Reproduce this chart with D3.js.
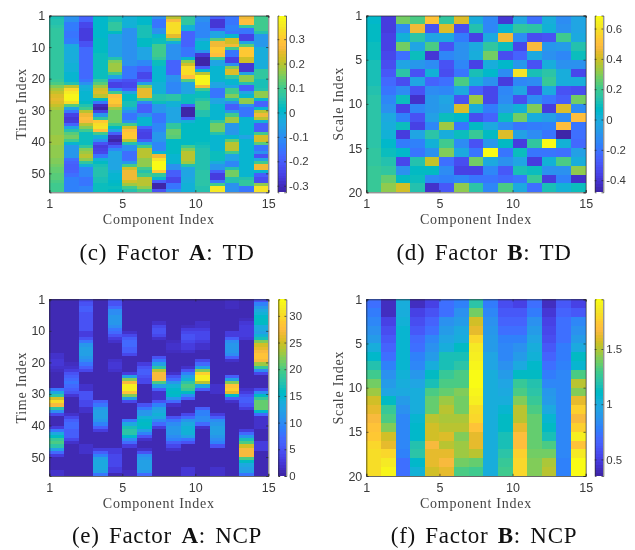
<!DOCTYPE html>
<html><head><meta charset="utf-8">
<script src="https://cdnjs.cloudflare.com/ajax/libs/d3/7.8.5/d3.min.js"></script>
<style>
html,body{margin:0;padding:0;background:#fff;}
svg{display:block;filter:blur(0.45px);}
.tk text{font-family:"Liberation Sans",Arial,sans-serif;font-size:12.5px;fill:#3a3a3a;}
.cbk text{font-size:11.4px;}
.tk path,.tk line{stroke:#262626;stroke-width:0.7;}
.lab{font-family:"Liberation Serif",serif;font-size:14px;fill:#444;letter-spacing:0.75px;}
.cap{font-family:"Liberation Serif",serif;font-size:23px;fill:#111;letter-spacing:0.7px;word-spacing:3px;}
rect{shape-rendering:crispEdges;}
</style></head><body><svg id="c" width="635" height="550"></svg>
<script>
const parula=[[.2422,.1504,.6603],[.2504,.165,.7076],[.2578,.1818,.7511],[.2647,.1978,.7952],[.2706,.2147,.8364],[.2751,.2342,.871],[.2783,.2559,.8991],[.2803,.2782,.9221],[.2813,.3006,.9414],[.281,.3228,.9579],[.2795,.3447,.9717],[.276,.3667,.9829],[.2699,.3892,.9906],[.2602,.4123,.9952],[.244,.4358,.9988],[.2206,.4603,.9973],[.1963,.4847,.9892],[.1834,.5074,.9798],[.1786,.5289,.9682],[.1764,.5499,.952],[.1687,.5703,.9359],[.154,.5902,.9218],[.146,.6091,.9079],[.138,.6276,.8973],[.1248,.6459,.8883],[.1113,.6635,.8763],[.0952,.6798,.8598],[.0689,.6948,.8394],[.0297,.7082,.8163],[.0036,.7203,.7917],[.0067,.7312,.766],[.0433,.7411,.7394],[.0964,.75,.712],[.1408,.7584,.6842],[.1717,.767,.6554],[.1938,.7758,.6251],[.2161,.7843,.5923],[.247,.7918,.5567],[.2906,.7973,.5188],[.3406,.8008,.4789],[.3909,.8029,.4354],[.4456,.8024,.3909],[.5044,.7993,.348],[.5616,.7942,.3045],[.6174,.7876,.2612],[.672,.7793,.2227],[.7242,.7698,.191],[.7738,.7598,.1646],[.8203,.7498,.1535],[.8634,.7406,.1596],[.9035,.733,.1774],[.9393,.7288,.21],[.9728,.7298,.2394],[.9956,.7434,.2371],[.997,.7659,.2199],[.9952,.7861,.1991],[.9892,.8138,.1816],[.9786,.8422,.1671],[.9676,.868,.1542],[.961,.8911,.1535],[.9597,.917,.1423],[.9628,.9373,.1265],[.9691,.9606,.1064],[.9769,.9839,.0805]].map(c=>d3.rgb(c[0]*255,c[1]*255,c[2]*255).formatHex());

// Factor A: TD, one array per component, 56 time rows
const tdA1=[.04,.05,.05,.06,.07,.07,.07,.07,.07,.07,.08,.08,.08,.08,.08,.08,.08,.08,.08,.08,.09,.11,.15,.19,.21,.23,.24,.23,.21,.19,.17,.16,.16,.16,.17,.17,.17,.17,.18,.18,.18,.17,.17,.16,.16,.15,.15,.14,.13,.13,.12,.12,.11,.10,.10,.10];
const tdA2=[-.10,-.10,-.14,-.14,-.14,-.15,-.15,-.14,-.14,-.04,-.03,-.03,-.03,-.03,-.03,-.02,-.02,-.02,-.01,-.01,-.01,.05,.20,.32,.36,.38,.38,.33,.12,-.05,-.15,-.25,-.28,-.27,-.18,-.05,.05,.12,.14,.10,0,-.08,-.08,-.08,-.08,-.16,-.18,-.20,-.20,-.18,-.16,-.13,-.13,-.13,-.13,-.13];
const tdA3=[-.18,-.18,-.24,-.24,-.27,-.27,-.27,-.27,-.22,-.22,-.17,-.17,-.17,-.17,-.17,-.17,-.17,-.17,-.17,-.17,-.15,-.10,-.03,-.02,-.01,0,0,.02,.05,.10,.20,.26,.28,.27,.20,.15,.10,.03,.03,.03,.03,.08,.15,.18,.20,.16,.08,-.02,-.12,-.12,-.12,-.15,-.15,-.15,-.12,-.12];
const tdA4=[.01,.01,.01,.01,.01,.01,.01,.02,.02,.02,.02,.02,.03,.03,.03,.03,.03,.03,.03,.03,.08,.12,.18,.22,.23,.20,.02,-.15,-.30,-.32,-.25,-.08,.08,.30,.33,.35,.28,.10,-.02,-.10,-.22,-.26,-.25,-.24,-.15,-.02,.02,.04,.05,.05,.05,.04,.04,.03,.03,.03];
const tdA5=[.04,.04,.08,.08,.08,.02,-.06,-.06,-.06,-.06,-.06,-.06,-.06,.05,.15,.18,.18,.18,.10,-.05,-.20,-.25,-.25,-.12,.10,.28,.30,.30,.25,.18,.14,.14,.14,.14,.10,.02,-.05,-.20,-.30,-.33,-.28,-.20,-.12,-.05,-.05,-.05,-.05,-.05,-.05,-.02,-.01,0,.01,.02,.03,.02];
const tdA6=[-.02,-.02,-.02,-.02,-.10,-.10,-.10,-.10,-.10,-.10,-.10,-.10,-.10,-.10,-.10,-.10,-.15,-.15,-.15,-.15,-.22,-.24,-.24,-.20,-.05,.02,.02,.04,.04,-.03,-.10,-.15,-.15,-.10,.10,.22,.28,.30,.30,.20,.05,-.10,-.10,-.16,-.16,-.16,-.08,.10,.22,.25,.25,.25,.22,.18,.10,.05];
const tdA7=[.01,.01,.01,.04,.04,.04,.04,.02,.02,.02,-.05,-.05,-.05,-.05,-.12,-.12,-.18,-.18,-.24,-.24,-.20,-.05,.15,.24,.24,.24,.10,-.12,-.20,-.20,-.20,-.10,0,0,0,-.18,-.24,-.25,-.25,-.20,-.05,.10,.20,.20,.20,.17,.17,.17,.10,.05,.10,.20,.20,.20,.17,.10];
const tdA8=[-.10,-.15,-.15,-.15,-.10,-.10,0,.03,.03,.10,.10,.10,.10,.08,.03,.03,0,0,0,0,0,-.02,-.02,-.02,-.02,.05,.05,.03,-.08,-.08,-.08,-.15,-.15,-.15,-.12,-.12,-.12,-.08,-.08,-.08,-.12,-.12,-.12,0,.25,.35,.39,.39,.39,.30,.08,0,-.20,-.32,-.32,-.22];
const tdA9=[.20,.27,.33,.33,.33,.33,.24,.12,-.02,-.10,-.10,-.10,-.10,-.10,-.18,-.18,-.18,-.18,-.18,-.10,-.10,-.12,-.12,-.12,-.12,.06,.06,-.02,-.02,-.05,-.05,-.05,-.05,-.05,.08,.08,.13,.13,.12,.02,.02,.02,.02,.02,0,0,0,-.10,-.10,-.20,-.20,-.24,-.24,-.15,-.15,-.10];
const tdA10=[.07,.07,.07,-.02,-.02,-.18,-.18,-.18,-.18,-.18,-.15,-.15,-.15,0,.17,.22,.33,.33,.33,.28,.12,-.05,-.05,-.05,-.05,.03,.03,.03,-.20,-.32,-.32,-.32,-.20,-.02,.02,.02,.02,.02,.02,.02,.02,.10,.15,.20,.20,.20,.18,.05,-.05,-.05,-.05,-.04,-.03,-.02,-.02,-.02];
const tdA11=[-.10,-.10,-.12,-.12,-.12,-.12,-.12,-.05,0,0,0,-.10,-.28,-.33,-.33,-.33,-.20,0,.20,.38,.38,.38,.25,.10,.03,.03,.05,.10,.10,.10,.05,.05,.02,.02,.02,.02,.02,.02,.02,.02,.03,.04,.05,.05,.05,.05,.05,.05,.05,.06,.06,.06,.06,.06,.05,.05];
const tdA12=[-.20,-.28,-.28,-.28,-.20,-.05,-.05,.12,.25,.25,.30,.30,.28,.10,-.05,-.05,0,0,0,0,0,-.05,-.05,-.15,-.15,-.15,-.05,-.05,0,0,0,0,0,.08,.14,.14,.14,.05,0,0,0,0,0,.03,.03,.03,-.03,-.08,-.08,-.20,-.27,-.27,-.15,.10,.36,.36];
const tdA13=[-.15,-.15,-.15,-.13,-.13,-.15,0,.22,.22,.25,.10,-.15,-.15,-.25,-.25,-.10,.15,.23,.23,.08,0,0,-.05,.10,.10,.15,.05,-.10,-.20,-.20,-.08,.10,.18,.18,-.08,-.08,-.08,-.08,0,.12,.20,.20,.20,.10,-.05,-.05,-.12,-.12,.05,.14,.14,.05,.05,-.10,-.10,-.10];
const tdA14=[.25,.28,.28,.08,-.15,-.15,-.25,-.25,-.05,.12,.30,.30,.30,.22,.22,-.28,-.28,-.28,-.05,.16,.16,.05,-.20,-.20,-.05,0,.17,.17,-.10,-.15,-.15,-.15,0,0,0,0,0,0,-.05,0,0,0,0,0,0,0,0,0,0,0,0,.05,.08,.08,-.15,-.15];
const tdA15=[.10,.10,.10,.10,.10,.05,-.08,-.08,-.08,-.08,-.03,-.03,-.03,-.03,-.03,-.03,-.03,.08,.08,.08,.04,.04,.04,.05,.17,.17,0,-.18,-.18,0,.20,.25,.20,-.02,-.20,-.20,-.20,.10,.22,.22,.12,-.15,-.15,-.10,-.22,-.05,.10,.25,.25,0,-.20,-.23,-.23,.17,.35,.35];

// Factor B: TD, 20 scale rows
const tdB1=[.05,.07,.08,.09,.1,.11,.12,.12,.13,.14,.14,.15,.15,.15,.15,.16,.17,.18,.18,.18];
const tdB2=[-.38,-.38,-.37,-.36,-.35,-.33,-.28,-.24,-.2,-.15,-.1,-.02,0,.02,.06,.09,.13,.17,.26,.32];
const tdB3=[.28,-.12,.02,.27,-.22,-.03,.14,-.32,-.12,.09,-.36,-.16,.09,-.38,-.18,.06,-.35,-.1,.07,.4];
const tdB4=[.22,.45,.14,-.04,.1,-.08,-.3,-.04,-.3,-.42,-.15,-.3,-.36,-.03,-.16,-.2,.13,.08,.09,.13];
const tdB5=[.52,-.3,-.03,.22,-.4,-.12,.03,-.25,-.12,-.08,-.08,-.05,-.15,.15,.02,-.1,.38,.08,-.15,-.42];
const tdB6=[.16,.42,-.02,-.3,-.15,-.3,-.33,-.22,-.15,-.03,-.05,.09,.33,0,.2,.3,-.22,-.12,-.16,-.28];
const tdB7=[.42,-.33,-.18,-.1,-.1,-.15,-.2,.23,-.02,-.3,.42,.05,-.2,.1,-.12,-.02,-.33,-.36,-.15,.32];
const tdB8=[0,.13,-.36,-.02,0,-.36,.12,0,-.27,.33,0,-.33,.08,.19,-.3,-.2,.28,-.37,-.2,.14];
const tdB9=[-.15,-.15,-.02,.17,.28,0,.05,-.1,-.35,-.35,-.18,-.25,-.02,.08,-.08,.68,-.02,-.15,-.2,-.14];
const tdB10=[-.4,.04,.45,.1,-.32,.06,-.12,-.38,-.15,-.12,-.06,.1,-.13,.42,.08,-.2,-.1,-.28,-.24,.23];
const tdB11=[-.03,.17,-.12,-.35,-.25,-.08,.6,-.15,-.04,-.32,.03,.28,-.2,-.05,-.38,.1,-.03,.12,-.2,-.02];
const tdB12=[-.22,.14,-.33,.47,-.02,-.3,.12,-.12,-.35,-.12,.3,.01,-.18,-.12,.17,-.2,-.38,.1,.18,-.22];
const tdB13=[0,.03,-.3,-.08,-.1,.01,.14,.18,-.02,-.2,-.38,-.05,-.17,-.2,.68,-.2,.02,-.1,-.38,.12];
const tdB14=[-.12,-.1,.2,-.07,-.15,-.1,.01,.01,-.3,-.27,.42,-.13,.5,-.47,.02,-.22,.22,-.1,-.17,.02];
const tdB15=[-.03,-.04,-.02,.13,.1,-.1,-.35,0,-.32,.27,-.13,.5,-.2,-.22,-.23,-.05,0,.32,-.42,.09];

// Factor A: NCP, 56 time rows
const ncpA1=[1,1,1,1,1,1,1,1,1,1,1,1,1,1,1,1,1,2,2,2.5,2.5,2,1.5,1,1,1,1,1,8,13,18,25,30,27,18,10,4,1,1,1,3,8,13,16,19,20,18,12,7,3,1,1,1,1,2,2];
const ncpA2=[1,1,1,1,1,1,1,1,1,1,1,1,1,1,1,1,1,1,1,1,1.5,2,3,5,6,7,8,7,6,5,2.5,1,1,1,1,1,2,4,6,7,7,6,6,6,4,2,1,1,1,1,1,1,1,1,1,1];
const ncpA3=[4,5,6,6,5,5,5,5,5,5,3,3,5,8,11,12,12,12,11,10,8,6,4,1,1,1,1,2,2,5,5,5,4,4,2,2,1,1,1,1,1,1,1,1,1,1,2,2,2,1,1,1,1,1,1,1];
const ncpA4=[1,1,1,1,1,1,1,1,1,1,1,1,1,1,1,1,1,1,1,1,1,1,1,1,1,1,1,1,1,1,1,1,6,8,11,12,12,12,11,9,6,3,1,1,1,1,1,3,6,9,12,13,13,13,12,8];
const ncpA5=[5,5,7,10,10,11,11,11,10,8,7,5,3,2,1,1,1,1,1,2,2.5,2.5,2,1,1,1,1,1,1,1,1,1,1,1,1,1,1,1,1,1,1,1,1,1,1,1,1,3,3,4,4,4,4,3,3,1];
const ncpA6=[1,1,1,1,1,1,1,1,1,1,2,4,6,7,7,6,6,4,1,1,1,1,1,3,12,22,27,32,32,28,22,12,4,1,1,1,1,1,8,13,17,18,18,15,10,7,3,1,1,1,1,1,1,1,1.5,1.5];
const ncpA7=[1,1,1,1,1,1,1,1,1,1,1,1,1,1,1,1,1,1,1,1,3,5,6,6,5,4,4,1,1,1,1,1,1,5,8,11,11,14,15,16,15,12,9,5,2,1,1,2,5,10,11,12,12,12,11,7];
const ncpA8=[1,1,1,1,1,1,1,2,4,5,5,4,2,1,1,1,1,1,5,8,12,18,24,27,27,27,20,12,6,2,2,2,5,9,12,13,14,13,10,7,3,1,1,1,1,1,1,1,1,1,1,1,1,1,1,1];
const ncpA9=[1,1,1,1,1,1,1,1,1,1,1,1,1,1.5,2,2,1.5,1,1,1,1,1,1,2,5,7,11,14,15,16,15,11,7,2,1,1,1,5,8,10,11,11,11,10,9,6,4,2,1,1,1,1,1,1,1,1];
const ncpA10=[1,1,1,1,1,1,1,1,1.5,3,4,5,5,4,3,3,2,1,1,1,1,2,5,9,12,14,18,20,19,16,10,6,1,1,1,1,4,7,11,13,14,14,14,12,8,5,1,1,1,1,1,1,1,2.5,2.5,2.5];
const ncpA11=[1,1,1,1,1,1,1,2,2,3,4,4,4,3,2,2,1,1,1,4,7,12,22,29,32,32,24,13,6,1,1,1,1,1,6,9,9,10,10,7,2,1,1,1,1,1,1,1,1,1,1,1,1,1,1,1];
const ncpA12=[1,1,1,1,1,1,1,1,1,1,1,1,1,1,1,1,1,1,1,1,1,1,1,1,1,1,1,2,2,2,1,1,1,1,1,1,3,6,10,11,12,12,12,11,10,9,5,1,1,1,1,1,1,2,2,2];
const ncpA13=[1.5,1.5,1.5,1,1,1,1,1,1,1,3,3,6,10,11,11,11,10,6,2,1,1,1,1,6,12,22,28,29,26,15,6,2,1,1,1,1,1,1,1,1,1,1,1,1,1,1,1,1,1,1,1,1,1,1,1];
const ncpA14=[1,1,1,1,1,1,1.5,2.5,3,3,3,3,2.5,1,1,1,1,1,1,1,1,1,1,1,1,1,1,1,2,3,5,6,6,5,3,1,1,1,1,1,1,3,7,11,17,20,25,27,27,27,20,16,13,12,12,8];
const ncpA15=[5,9,11,13,14,15,16,16,13,13,12,14,17,22,25,26,27,28,28,27,23,19,10,4,1,1,1,1,4,10,16,19,21,21,21,15,7,2,2,2,2,1,1,1,1,3,3,3,1,1,1,1,1,1,1,1];

// Factor B: NCP, 20 scale rows
const ncpB1=[.72,.75,.8,.85,.92,1,1.08,1.18,1.28,1.38,1.45,1.55,1.6,1.65,1.7,1.73,1.78,1.8,1.82,1.82];
const ncpB2=[.42,.42,.5,.55,.6,.65,.7,.78,.85,.9,.97,1.12,1.25,1.3,1.42,1.55,1.6,1.78,1.85,1.92];
const ncpB3=[1.02,1.02,1.03,1.05,1.05,1.05,1.05,1.05,1.03,1.02,.98,.92,.85,.82,.82,.8,.8,.78,.72,.7];
const ncpB4=[.42,.5,.55,.6,.68,.72,.78,.82,.88,.95,1,1,1,1.05,1.08,1.08,1.18,1.2,1.08,1.03];
const ncpB5=[.5,.58,.65,.72,.8,.85,.92,1,1.1,1.15,1.3,1.35,1.35,1.5,1.55,1.55,1.65,1.6,1.6,1.55];
const ncpB6=[.7,.72,.85,.9,.95,1.02,1.15,1.15,1.25,1.3,1.35,1.45,1.52,1.48,1.5,1.58,1.5,1.6,1.65,1.62];
const ncpB7=[.78,.85,.9,.98,1.02,1.12,1.15,1.2,1.3,1.32,1.4,1.38,1.38,1.48,1.5,1.42,1.45,1.45,1.38,1.3];
const ncpB8=[1.2,1.38,1.55,1.62,1.78,1.85,1.88,1.92,1.93,1.93,1.9,1.88,1.82,1.78,1.72,1.62,1.6,1.5,1.35,1.28];
const ncpB9=[.75,.8,.85,.88,.9,.92,.95,.97,1,1,1,1,1,1.02,1.02,1.02,1.02,1.02,1.02,1];
const ncpB10=[.55,.6,.65,.7,.78,.8,.82,.85,.9,.95,.98,1,1.05,1.1,1.12,1.15,1.15,1.2,1.25,1.28];
const ncpB11=[.52,.6,.65,.72,.78,.85,.92,.98,1.1,1.25,1.3,1.4,1.5,1.52,1.6,1.68,1.68,1.75,1.78,1.78];
const ncpB12=[.72,.75,.85,.9,.95,1,1.03,1.08,1.12,1.18,1.2,1.25,1.3,1.35,1.35,1.35,1.35,1.38,1.4,1.4];
const ncpB13=[.42,.45,.5,.53,.55,.6,.65,.72,.75,.8,.88,.92,.98,1.05,1.1,1.15,1.3,1.38,1.48,1.5];
const ncpB14=[.6,.65,.7,.72,.72,.75,.75,.78,.8,.8,.82,.82,.82,.82,.82,.82,.8,.8,.78,.78];
const ncpB15=[.5,.6,.8,.85,.9,.98,1.1,1.05,1.3,1.5,1.4,1.6,1.75,1.65,1.75,1.88,1.72,1.85,1.95,1.95];

const xTickLabels=["1","5","10","15"];
const timeTickLabels=["1","10","20","30","40","50"];
const scaleTickLabels=["1","5","10","15","20"];
const tdATicks=[-.3,-.2,-.1,0,.1,.2,.3];
const tdBTicks=[-.4,-.2,0,.2,.4,.6];
const ncpATicks=[0,5,10,15,20,25,30];
const ncpBTicks=[.5,1,1.5];

const svg=d3.select("#c");
const xPos=[0,5,10,15];
function panel(o){
  const g=svg.append("g");
  const nC=o.cols.length,nR=o.cols[0].length;
  const x=d3.scaleLinear().domain([0,nC]).range([o.l,o.r]);
  const y=d3.scaleLinear().domain([0,nR]).range([o.t,o.b]);
  const col=d3.scaleQuantize().domain(o.dom).range(parula);
  const yPos=o.yLabels.map(v=>v==="1"?0:+v);
  o.cols.forEach((c,j)=>{
    g.append("g").selectAll("rect").data(c).join("rect")
      .attr("x",x(j)).attr("width",x(j+1)-x(j))
      .attr("y",(d,i)=>y(i)).attr("height",(d,i)=>y(i+1)-y(i))
      .attr("fill",d=>col(d));
  });
  const xf=(d,i)=>xTickLabels[i], yf=(d,i)=>o.yLabels[i];
  g.append("g").attr("class","tk").attr("transform",`translate(0,${o.b})`)
    .call(d3.axisBottom(x).tickValues(xPos).tickFormat(xf).tickSize(-2.2).tickPadding(7));
  g.append("g").attr("class","tk").attr("transform",`translate(0,${o.t})`)
    .call(d3.axisTop(x).tickValues(xPos).tickFormat("").tickSize(-2.2));
  g.append("g").attr("class","tk").attr("transform",`translate(${o.l},0)`)
    .call(d3.axisLeft(y).tickValues(yPos).tickFormat(yf).tickSize(-2.2).tickPadding(4));
  g.append("g").attr("class","tk").attr("transform",`translate(${o.r},0)`)
    .call(d3.axisRight(y).tickValues(yPos).tickFormat("").tickSize(-2.2));
  // colour bar
  const cb=d3.scaleLinear().domain(o.dom).range([o.b,o.t]);
  const steps=d3.range(parula.length);
  const sh=(o.b-o.t)/parula.length;
  g.append("g").selectAll("rect").data(steps).join("rect")
    .attr("x",o.cl).attr("width",o.cr-o.cl)
    .attr("y",d=>o.b-(d+1)*sh).attr("height",sh).attr("fill",d=>parula[d]);
  g.append("g").attr("class","tk cbk").attr("transform",`translate(${o.cr},0)`)
    .call(d3.axisRight(cb).tickValues(o.ticks).tickFormat(d=>String(d)).tickSize(-1.8).tickPadding(3));
  g.append("g").attr("class","tk").attr("transform",`translate(${o.cl},0)`)
    .call(d3.axisLeft(cb).tickValues(o.ticks).tickFormat("").tickSize(-1.8));
  // titles
  g.append("text").attr("class","lab").attr("x",(o.l+o.r)/2).attr("y",o.b+32).attr("text-anchor","middle").text("Component Index");
  g.append("text").attr("class","lab").attr("transform",`translate(${o.l-23},${(o.t+o.b)/2}) rotate(-90)`).attr("text-anchor","middle").text(o.yTitle);
  const cap=g.append("text").attr("class","cap").attr("x",o.capX).attr("y",o.capY).attr("text-anchor","middle");
  cap.append("tspan").text(o.cap[0]+" Factor ");
  cap.append("tspan").attr("font-weight","bold").text(o.cap[1]);
  cap.append("tspan").text(": "+o.cap[2]);
}
panel({cols:[tdA1,tdA2,tdA3,tdA4,tdA5,tdA6,tdA7,tdA8,tdA9,tdA10,tdA11,tdA12,tdA13,tdA14,tdA15],dom:[-.327,.397],ticks:tdATicks,yLabels:timeTickLabels,yTitle:"Time Index",cap:["(c)","A","TD"],l:49.3,r:268.3,t:15.5,b:192.3,cl:277.5,cr:286,capX:167,capY:260});
panel({cols:[tdB1,tdB2,tdB3,tdB4,tdB5,tdB6,tdB7,tdB8,tdB9,tdB10,tdB11,tdB12,tdB13,tdB14,tdB15],dom:[-.48,.686],ticks:tdBTicks,yLabels:scaleTickLabels,yTitle:"Scale Index",cap:["(d)","B","TD"],l:366.3,r:585.7,t:15.5,b:192.3,cl:594.7,cr:603.3,capX:484,capY:260});
panel({cols:[ncpA1,ncpA2,ncpA3,ncpA4,ncpA5,ncpA6,ncpA7,ncpA8,ncpA9,ncpA10,ncpA11,ncpA12,ncpA13,ncpA14,ncpA15],dom:[0,33.1],ticks:ncpATicks,yLabels:timeTickLabels,yTitle:"Time Index",cap:["(e)","A","NCP"],l:49.3,r:268.3,t:299.3,b:476,cl:278.3,cr:286.3,capX:167,capY:543});
panel({cols:[ncpB1,ncpB2,ncpB3,ncpB4,ncpB5,ncpB6,ncpB7,ncpB8,ncpB9,ncpB10,ncpB11,ncpB12,ncpB13,ncpB14,ncpB15],dom:[.35,1.95],ticks:ncpBTicks,yLabels:scaleTickLabels,yTitle:"Scale Index",cap:["(f)","B","NCP"],l:366.3,r:585.7,t:299.3,b:476,cl:594.7,cr:603.3,capX:484,capY:543});
</script></body></html>
